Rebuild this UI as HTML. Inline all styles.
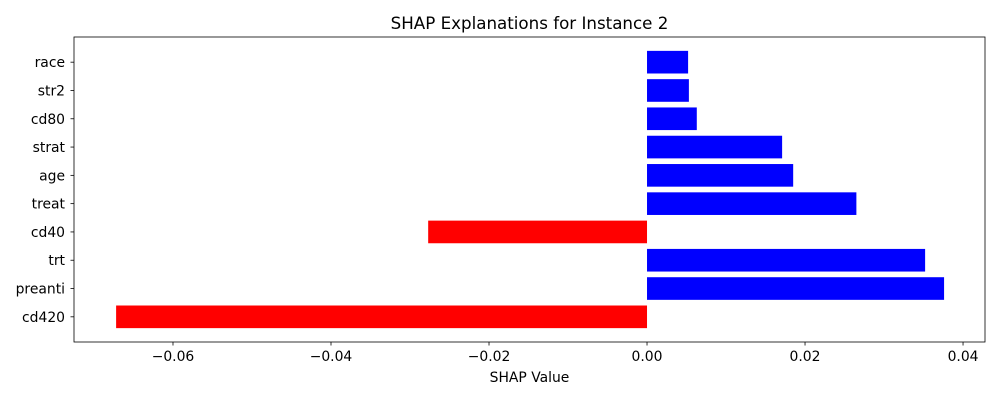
<!DOCTYPE html>
<html><head><meta charset="utf-8"><style>
body{margin:0;background:#fff;}
svg text{font-family:"DejaVu Sans","Liberation Sans",sans-serif;fill:#000;}
</style></head><body>
<svg id="chart" width="1000" height="400" xmlns="http://www.w3.org/2000/svg"></svg>
<script>
const categories = ["cd420","preanti","trt","cd40","treat","age","strat","cd80","str2","race"];
const values = [-0.0672, 0.0376, 0.0352, -0.0277, 0.0265, 0.0185, 0.0171, 0.0063, 0.0053, 0.0052];
const xTicks = [-0.06, -0.04, -0.02, 0.00, 0.02, 0.04];
const xTickLabels = ["\u22120.06","\u22120.04","\u22120.02","0.00","0.02","0.04"];

const svg = document.getElementById('chart');
const NS = "http://www.w3.org/2000/svg";
const L=74, R=985, T=37, B=342;
const x0=-0.07253, x1=0.04278;
const y0=-0.89, y1=categories.length-1+0.89;
const xs = v => L + (v-x0)/(x1-x0)*(R-L);
const ys = i => B - (i-y0)/(y1-y0)*(B-T);
const pxPerUnit = (B-T)/(y1-y0);
function mk(tag, attrs, parent){const e=document.createElementNS(NS,tag);for(const k in attrs)e.setAttribute(k,attrs[k]);(parent||svg).appendChild(e);return e;}

const bars = mk('g',{});


values.forEach((v,i)=>{
  const h=0.8*pxPerUnit;
  const r=mk('rect',{x:Math.min(xs(0),xs(v)),y:ys(i)-h/2,width:Math.abs(xs(v)-xs(0)),height:h,fill:v<0?'#ff0000':'#0000ff'},bars);
  
  
  const tk=mk('line',{x1:L-3.5,x2:L,y1:ys(i),y2:ys(i),stroke:'#000','stroke-width':0.8});
  
  
  const t=mk('text',{x:L-9,y:ys(i)+5,'text-anchor':'end','font-size':13.9});
  t.textContent=categories[i];
  
  
});
xTicks.forEach((v,i)=>{
  const tk=mk('line',{x1:xs(v),x2:xs(v),y1:B,y2:B+3.5,stroke:'#000','stroke-width':0.8});
  
  
  const t=mk('text',{x:xs(v),y:B+19,'text-anchor':'middle','font-size':13.9});
  t.textContent=xTickLabels[i];
  
  
});
const frame=mk('rect',{x:L,y:T,width:R-L,height:B-T,fill:'none',stroke:'#000','stroke-width':0.8});


const xt=mk('text',{x:(L+R)/2,y:382,'text-anchor':'middle','font-size':13.9});
xt.textContent='SHAP Value';


const title=mk('text',{x:(L+R)/2,y:29,'text-anchor':'middle','font-size':16.7});
title.textContent='SHAP Explanations for Instance 2';


</script>
</body></html>
